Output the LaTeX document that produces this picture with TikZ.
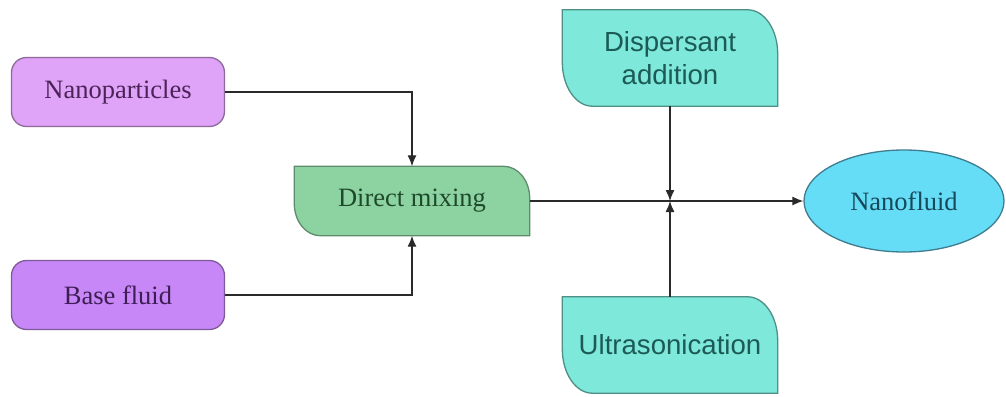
\documentclass[tikz,border=0pt]{standalone}
\usepackage{fontspec}
\setmainfont{Liberation Serif}
\setsansfont{Liberation Sans}
\usetikzlibrary{arrows.meta,backgrounds,shapes.geometric}

\definecolor{npfill}{HTML}{DFA3F7}\definecolor{npdraw}{HTML}{8E6A9A}\definecolor{nptext}{HTML}{4B2358}
\definecolor{bffill}{HTML}{C787F7}\definecolor{bfdraw}{HTML}{7F5A98}\definecolor{bftext}{HTML}{3E1D54}
\definecolor{dmfill}{HTML}{8DD3A2}\definecolor{dmdraw}{HTML}{5E8C6C}\definecolor{dmtext}{HTML}{1E4A2B}
\definecolor{tqfill}{HTML}{7EE8DA}\definecolor{tqdraw}{HTML}{4E8F86}\definecolor{tqtext}{HTML}{1C5A55}
\definecolor{nffill}{HTML}{66DDF7}\definecolor{nfdraw}{HTML}{3E7C8E}\definecolor{nftext}{HTML}{17485A}
\definecolor{wire}{HTML}{2A2A2A}

% box with rounded top-right and bottom-left corners (elliptical radii)
\newcommand{\leafbox}[4]{%
  \path[#4] (#1.north west) -- ([xshift=-#2]#1.north east)
    arc[start angle=90,end angle=0,x radius=#2,y radius=#3]
    -- (#1.south east) -- ([xshift=#2]#1.south west)
    arc[start angle=270,end angle=180,x radius=#2,y radius=#3] -- cycle;}

\begin{document}
\begin{tikzpicture}[x=1pt,y=1pt,
  serifbox/.style={inner sep=0pt, font=\fontsize{26.5}{30}\selectfont},
  sansbox/.style={inner sep=0pt, align=center, font=\sffamily\fontsize{27.6}{33}\selectfont},
  roundbox/.style={serifbox, rectangle, rounded corners=15pt, line width=1.3pt,
    minimum width=213pt, minimum height=69pt},
  conn/.style={draw=wire, line width=1.3pt, -{Latex[length=11pt,width=9pt]}}]
\useasboundingbox (0,0) rectangle (1006,-396);

\node[roundbox, fill=npfill, draw=npdraw, text=nptext] (np) at (118,-92) {Nanoparticles};
\node[roundbox, fill=bffill, draw=bfdraw, text=bftext] (bf) at (118,-295) {Base fluid};
\node[serifbox, minimum width=235pt, minimum height=69pt, text=dmtext] (dm) at (412,-201) {Direct mixing};
\node[sansbox, minimum width=215pt, minimum height=96pt, text=tqtext] (da) at (670,-58) {Dispersant\\addition};
\node[sansbox, minimum width=215pt, minimum height=96pt, text=tqtext] (us) at (670,-345) {Ultrasonication};
\node[serifbox, ellipse, inner sep=0pt, minimum width=200pt, minimum height=102pt,
  fill=nffill, draw=nfdraw, line width=1.3pt, text=nftext] (nf) at (904,-201) {Nanofluid};
\coordinate (j) at (670,-201);

\begin{scope}[on background layer]
  \fill[white] (0,0) rectangle (1006,-396);
  \leafbox{dm}{26pt}{32pt}{fill=dmfill, draw=dmdraw, line width=1.3pt}
  \leafbox{da}{30pt}{44pt}{fill=tqfill, draw=tqdraw, line width=1.3pt}
  \leafbox{us}{30pt}{44pt}{fill=tqfill, draw=tqdraw, line width=1.3pt}
\end{scope}

\draw[conn] (np.east) -| (dm.north);
\draw[conn] (bf.east) -| (dm.south);
\draw[conn] (dm.east) -- (nf.west);
\draw[conn] (da.south) -- (j);
\draw[conn] (us.north) -- (j);
\end{tikzpicture}
\end{document}
